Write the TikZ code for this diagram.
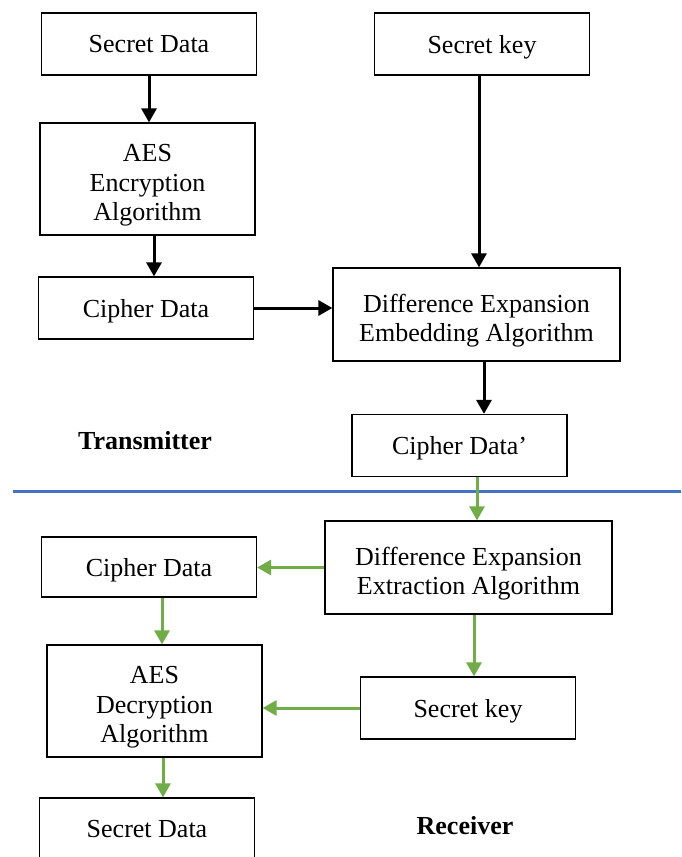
\documentclass[tikz,border=0pt]{standalone}
\usepackage{fontspec}
\setmainfont{Liberation Serif}
\usetikzlibrary{arrows.meta}
\definecolor{gline}{RGB}{112,173,71}
\definecolor{bline}{RGB}{68,114,196}
\tikzset{
  box/.style={draw, line width=0.6pt, align=center, minimum width=107.5pt, minimum height=31pt,
    font=\fontsize{13}{14.75}\selectfont, inner sep=2pt, text depth=0pt},
  bigbox/.style={box, minimum width=143.5pt, minimum height=46.5pt, text height=27pt},
  tallbox/.style={box, minimum height=56pt, text height=41.5pt},
  arr/.style={line width=1.5pt, -{Triangle[length=7pt,width=7.5pt]}},
  garr/.style={arr, color=gline},
  side/.style={font=\fontsize{13}{15}\selectfont\bfseries}
}
\begin{document}
\begin{tikzpicture}[x=0.5pt,y=-0.5pt]
    \useasboundingbox (0,0) rectangle (681,857);

    % transmitter side
    \node[box] (sd1) at (149,44) {Secret Data};
    \node[box] (sk1) at (482,44) {Secret key};
    \node[tallbox] (aes1) at (147.5,179) {AES\\Encryption\\Algorithm};
    \node[box] (cd1) at (146,308) {Cipher Data};
    \node[bigbox] (emb) at (476.5,314.5) {Difference Expansion\\Embedding Algorithm};
    \node[box] (cdp) at (459.5,445.5) {Cipher Data'};
    \node[side] (tx) at (145,441) {Transmitter};

    \draw[arr] (sd1.south) -- (sd1.south |- aes1.north);
    \draw[arr] ([xshift=3.25pt]aes1.south) -- ([xshift=3.25pt]aes1.south |- cd1.north);
    \draw[arr] (cd1.east) -- (cd1.east -| emb.west);
    \draw[arr] ([xshift=-1.5pt]sk1.south) -- ([xshift=-1.5pt]sk1.south |- emb.north);
    \draw[arr] ([xshift=3.75pt]emb.south) -- ([xshift=3.75pt]emb.south |- cdp.north);

    % dividing line
    \coordinate (ll) at (13,491);
    \coordinate (lr) at (681,491);
    \draw[line width=1.5pt, color=bline] (ll) -- (lr);

    % receiver side
    \node[bigbox] (ext) at (468.5,567.5) {Difference Expansion\\Extraction Algorithm};
    \node[box, minimum height=30pt] (cd2) at (149,567) {Cipher Data};
    \node[tallbox] (aes2) at (154.5,701) {AES\\Decryption\\Algorithm};
    \node[box] (sk2) at (468,708) {Secret key};
    \node[box] (sd2) at (147,829) {Secret Data};
    \node[side] (rx) at (465,826) {Receiver};

    \draw[garr] ([xshift=8.75pt]cdp.south) -- ([xshift=8.75pt]cdp.south |- ext.north);
    \draw[garr] (ext.west) -- (ext.west -| cd2.east);
    \draw[garr] ([xshift=2.75pt]ext.south) -- ([xshift=2.75pt]ext.south |- sk2.north);
    \draw[garr] (sk2.west) -- (sk2.west -| aes2.east);
    \draw[garr] ([xshift=6.5pt]cd2.south) -- ([xshift=6.5pt]cd2.south |- aes2.north);
    \draw[garr] ([xshift=4.25pt]aes2.south) -- ([xshift=4.25pt]aes2.south |- sd2.north);
\end{tikzpicture}
\end{document}
